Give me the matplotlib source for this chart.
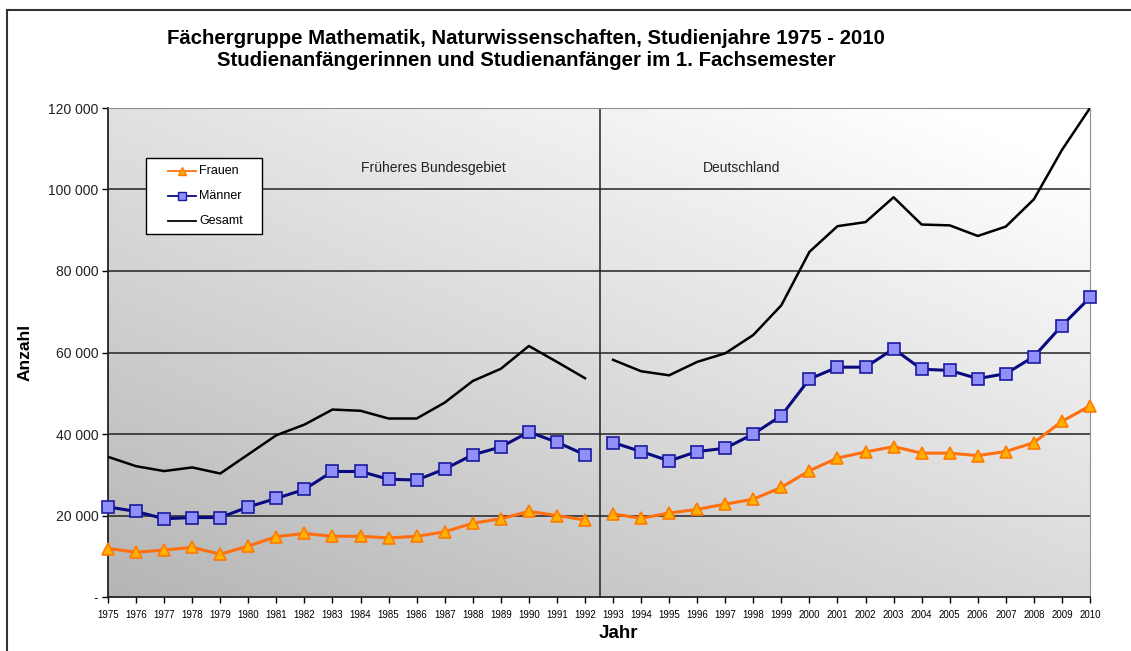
import matplotlib
matplotlib.use("Agg")
import matplotlib.pyplot as plt
from matplotlib.lines import Line2D
from matplotlib.patches import Rectangle
import numpy as np

plt.rcParams['font.family'] = ['Liberation Sans', 'DejaVu Sans']

# Daten
jahre_west = list(range(1975, 1993))
jahre_de = list(range(1993, 2011))

frauen_west = [11900, 11000, 11500, 12200, 10500, 12500, 14800, 15600, 14900, 14900,
               14500, 14900, 16000, 18100, 19200, 21000, 20000, 18900]
maenner_west = [22100, 21000, 19200, 19500, 19500, 22100, 24200, 26400, 30800, 30800,
                28900, 28700, 31400, 34900, 36800, 40500, 38000, 34900]
gesamt_west = [34400, 32100, 30900, 31800, 30300, 35000, 39700, 42300, 46000, 45700,
               43800, 43800, 47700, 53000, 56000, 61600, 57700, 53700]

frauen_de = [20400, 19300, 20600, 21500, 22800, 24000, 26900, 31000, 34100, 35600,
             36900, 35300, 35300, 34700, 35700, 37900, 43100, 46900]
maenner_de = [37900, 35700, 33400, 35700, 36500, 40000, 44500, 53500, 56400, 56400,
              60900, 55900, 55600, 53600, 54800, 59000, 66600, 73500]
gesamt_de = [58200, 55400, 54400, 57700, 59800, 64300, 71600, 84700, 91000, 92000,
             98100, 91400, 91200, 88600, 90900, 97600, 109700, 120000]

yticks = [0, 20000, 40000, 60000, 80000, 100000, 120000]
ylabels = ['-', '20 000', '40 000', '60 000', '80 000', '100 000', '120 000']

W, H = 1131, 651
fig = plt.figure(figsize=(W / 100, H / 100), dpi=100)
ax = fig.add_axes([108 / W, 1 - 597 / H, 982 / W, 489 / H])

# Hintergrund mit Verlauf
gx, gy = np.meshgrid(np.linspace(0, 1, 200), np.linspace(0, 1, 200))
grad = np.clip(0.71 + 0.14 * gx + 0.17 * gy, 0, 1)
ax.imshow(grad, cmap='gray', vmin=0, vmax=1, extent=[1975, 2010, 0, 120000],
          origin='lower', aspect='auto', zorder=0, interpolation='bilinear')

for y in yticks[1:]:
    ax.axhline(y, color='#222222', lw=1.1, zorder=1)
ax.axvline(1992.55, color='#222222', lw=1.1, zorder=1)

frauen_style = dict(color='#FF6F0F', lw=2.2, marker='^', markersize=9,
                    markerfacecolor='#FFB000', markeredgecolor='#FF7A00', markeredgewidth=1.2, zorder=4)
maenner_style = dict(color='#0A0A80', lw=2.2, marker='s', markersize=9,
                     markerfacecolor='#9090F8', markeredgecolor='#1A1AA0', markeredgewidth=1.2, zorder=4)
gesamt_style = dict(color='black', lw=1.8, zorder=3)

ax.plot(jahre_west, gesamt_west, **gesamt_style)
ax.plot(jahre_de, gesamt_de, **gesamt_style)
ax.plot(jahre_west, maenner_west, clip_on=False, **maenner_style)
ax.plot(jahre_de, maenner_de, clip_on=False, **maenner_style)
ax.plot(jahre_west, frauen_west, clip_on=False, **frauen_style)
ax.plot(jahre_de, frauen_de, clip_on=False, **frauen_style)

ax.set_xlim(1975, 2010)
ax.set_ylim(0, 120000)
ax.set_xticks(jahre_west + jahre_de)
ax.set_xticklabels([str(j) for j in jahre_west + jahre_de], fontsize=7)
ax.set_yticks(yticks)
ax.set_yticklabels(ylabels, fontsize=10, color='#222222')
ax.tick_params(axis='x', length=4, width=1, pad=5)
ax.tick_params(axis='y', length=4, width=1, pad=3)

for s in ['top', 'right']:
    ax.spines[s].set_color('#909090')
for s in ['left', 'bottom']:
    ax.spines[s].set_color('#222222')
    ax.spines[s].set_linewidth(1.3)

ax.set_ylabel('Anzahl', fontsize=12.5, fontweight='bold', va='center')
ax.yaxis.set_label_coords((25 - 108) / 982, 0.5)
ax.set_xlabel('Jahr', fontsize=13.5, fontweight='bold')
ax.xaxis.set_label_coords((618 - 108) / 982, (597 - 633) / 489)
ax.xaxis.label.set_va('center')

ax.text(1984.0, 105300, 'Früheres Bundesgebiet', fontsize=10, color='#222222',
        va='center', zorder=5)
ax.text(1996.2, 105300, 'Deutschland', fontsize=10, color='#222222', va='center', zorder=5)

# Legende
def px(x, y):
    return x / W, 1 - y / H

fig.add_artist(Rectangle(px(146, 234), 116 / W, 76 / H, transform=fig.transFigure,
                         facecolor='white', edgecolor='black', lw=1.0, zorder=6))
leg_items = [('Frauen', 171, frauen_style), ('Männer', 196, maenner_style),
             ('Gesamt', 221, gesamt_style)]
for name, ypx, st in leg_items:
    x0, y0 = px(168, ypx)
    x1, _ = px(196, ypx)
    fig.add_artist(Line2D([x0, x1], [y0, y0], color=st['color'], lw=1.3, zorder=7))
    if 'marker' in st:
        xm, _ = px(182, ypx)
        fig.add_artist(Line2D([xm], [y0], marker=st['marker'], markersize=5.5,
                              markerfacecolor=st['markerfacecolor'],
                              markeredgecolor=st['markeredgecolor'], lw=0, zorder=8))
    fig.text(199 / W, y0, name, fontsize=9, va='center', ha='left', zorder=8)

fig.text(0.465, 1 - 38 / H, 'Fächergruppe Mathematik, Naturwissenschaften, Studienjahre 1975 - 2010',
         ha='center', va='center', fontsize=14.7, fontweight='bold')
fig.text(0.465, 1 - 61 / H, 'Studienanfängerinnen und Studienanfänger im 1. Fachsemester',
         ha='center', va='center', fontsize=14.7, fontweight='bold')

# Rahmen der Grafik
fig.add_artist(Line2D([7 / W, 1], [1 - 10 / H, 1 - 10 / H], color='#333333', lw=1.5))
fig.add_artist(Line2D([7 / W, 7 / W], [0, 1 - 10 / H], color='#333333', lw=1.5))

fig.savefig('out.png', dpi=100)
plt.close(fig)
